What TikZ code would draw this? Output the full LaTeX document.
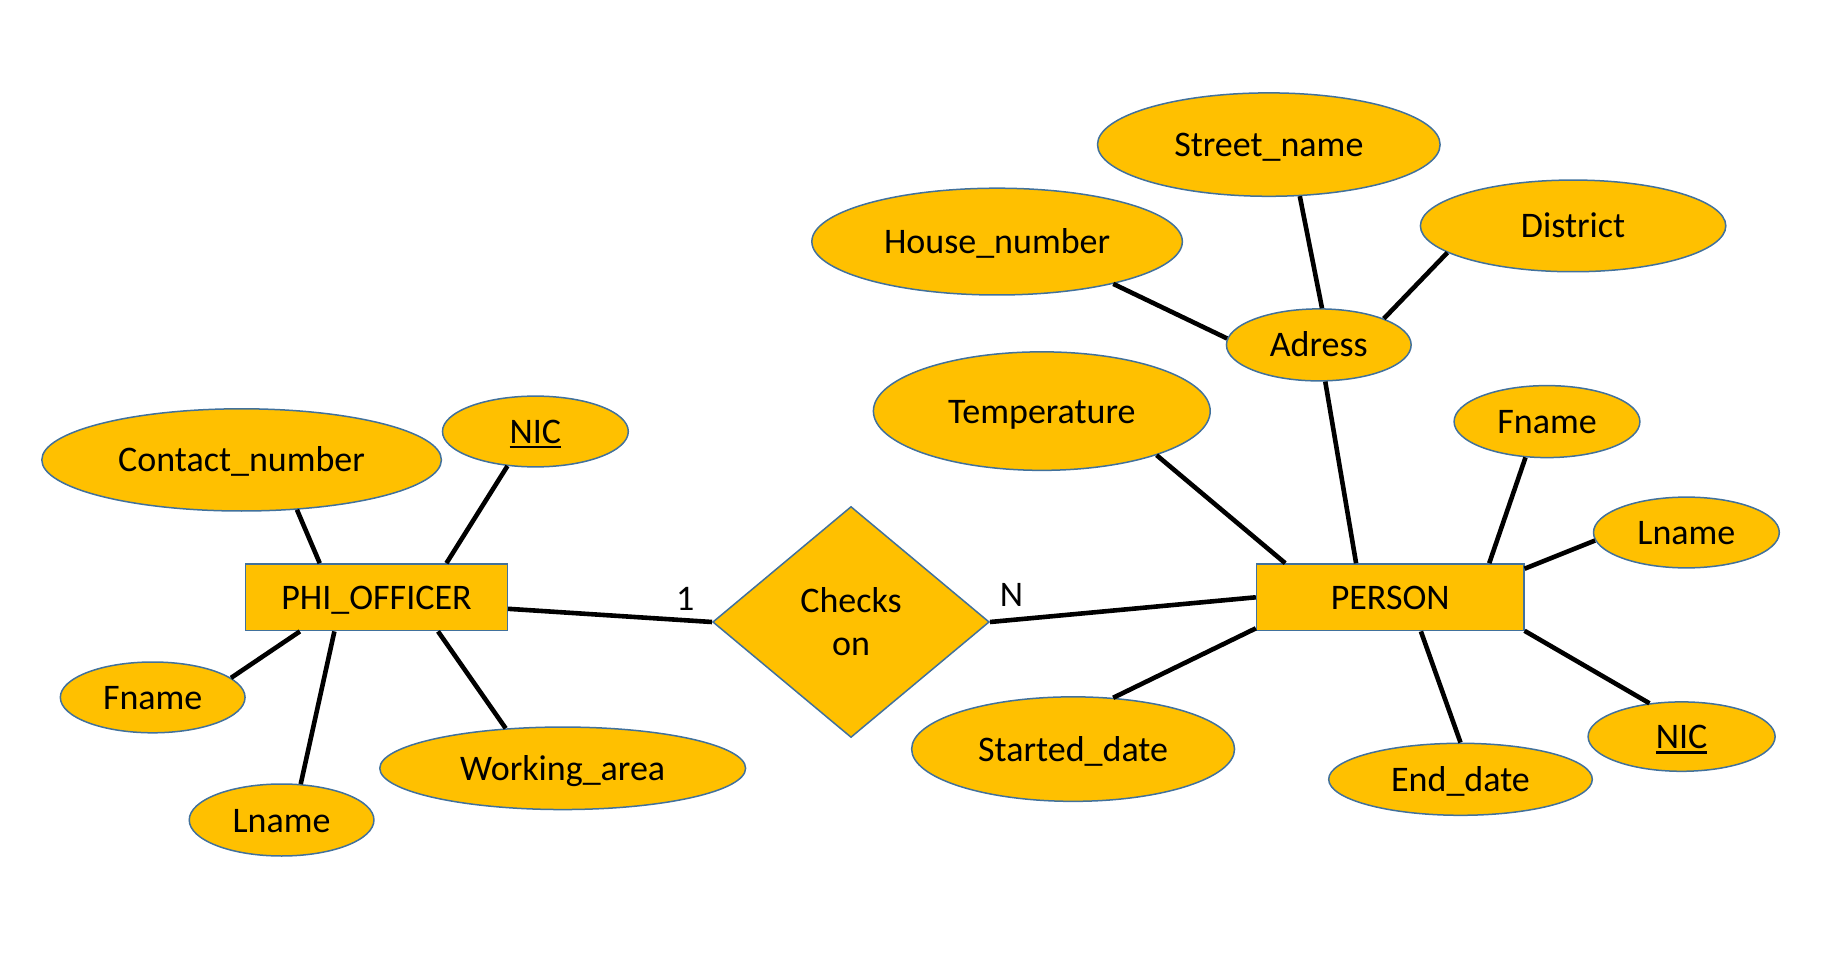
\documentclass[tikz,border=0pt]{standalone}
\usepackage{fontspec}
\setmainfont{Carlito}
\usetikzlibrary{shapes.geometric}
\definecolor{erfill}{HTML}{FFC000}
\definecolor{erborder}{HTML}{41719C}
\newcommand{\ulx}[1]{\setbox0\hbox{#1}\rlap{\rule[-5pt]{\wd0}{2.6pt}}\box0}
\tikzset{
  ertext/.style={font=\fontsize{36}{43}\selectfont, text=black},
  boxtext/.style={ertext, text height=30pt, text depth=6pt},
  attr/.style={ellipse, draw=erborder, fill=erfill, line width=1.5pt, inner sep=0pt, boxtext},
  entity/.style={rectangle, draw=erborder, fill=erfill, line width=1.5pt, inner sep=0pt, boxtext},
  rel/.style={diamond, draw=erborder, fill=erfill, line width=1.5pt, inner sep=0pt, ertext, align=center},
  conn/.style={draw=black, line width=4.6pt},
  card/.style={ertext, inner sep=0pt}
}
\begin{document}
\begin{tikzpicture}[x=1pt, y=-1pt]
\useasboundingbox (0,0) rectangle (1821,957);
% entities and relationship
\node[entity, minimum width=261.6pt, minimum height=66.7pt] (phi) at (376.5,597.3) {PHI\_OFFICER};
\node[entity, minimum width=267.2pt, minimum height=66.7pt] (person) at (1390.2,597.3) {PERSON};
\node[rel, minimum width=276.6pt, minimum height=231pt] (checks) at (851,622) {Checks\\on};
% attributes of PHI_OFFICER
\node[attr, minimum width=399.6pt, minimum height=102.2pt] (cn) at (241.6,459.9) {Contact\_number};
\node[attr, minimum width=185.8pt, minimum height=70.8pt] (nicL) at (535.4,431.5) {\ulx{NIC}};
\node[attr, minimum width=184.7pt, minimum height=70.8pt] (fnL) at (152.7,697.4) {Fname};
\node[attr, minimum width=184.7pt, minimum height=72pt] (lnL) at (281.6,820) {Lname};
\node[attr, minimum width=365.8pt, minimum height=82.5pt] (wa) at (562.7,768.3) {Working\_area};
% attributes of PERSON
\node[attr, minimum width=336.8pt, minimum height=118.5pt] (temp) at (1041.8,411.1) {Temperature};
\node[attr, minimum width=184.7pt, minimum height=72pt] (adr) at (1318.8,344.9) {Adress};
\node[attr, minimum width=370.5pt, minimum height=106.8pt] (hn) at (997.1,241.6) {House\_number};
\node[attr, minimum width=342.6pt, minimum height=103.4pt] (sn) at (1268.8,144.6) {Street\_name};
\node[attr, minimum width=305.4pt, minimum height=91.7pt] (dist) at (1573.1,225.9) {District};
\node[attr, minimum width=185.8pt, minimum height=72pt] (fnR) at (1547,421.6) {Fname};
\node[attr, minimum width=185.8pt, minimum height=70.8pt] (lnR) at (1686.4,532.5) {Lname};
\node[attr, minimum width=187pt, minimum height=69.4pt] (nicR) at (1681.6,736.6) {\ulx{NIC}};
\node[attr, minimum width=263.6pt, minimum height=72pt] (endd) at (1460.5,779.3) {End\_date};
\node[attr, minimum width=322.9pt, minimum height=104.5pt] (sd) at (1073.1,749.1) {Started\_date};
% cardinalities
\node[card] (c1) at (685.2,599) {1};
\node[card] (cN) at (1011.6,594.5) {N};
% connectors
\draw[conn] (cn.-42.5) -- (phi.149.8);
\draw[conn] (nicL.231.8) -- (phi.26.6);
\draw[conn] (fnL.14.7) -- (phi.204);
\draw[conn] (lnL.62) -- (phi.219.2);
\draw[conn] (wa.145.1) -- (phi.-29.2);
\draw[conn] (phi.-5.9) -- (checks.west);
\draw[conn] (checks.east) -- (person.180.7);
\draw[conn] (temp.-21) -- (person.162.8);
\draw[conn] (adr.-80) -- (person.135.5);
\draw[conn] (hn.-20.7) -- (adr.176.4);
\draw[conn] (sn.-59.2) -- (adr.85.4);
\draw[conn] (dist.192.7) -- (adr.22.5);
\draw[conn] (fnR.239.9) -- (person.19.2);
\draw[conn] (lnR.185.6) -- (person.12.5);
\draw[conn] (nicR.134.5) -- (person.-14.7);
\draw[conn] (endd.90) -- (person.-48.7);
\draw[conn] (sd.52.3) -- (person.193.4);
\end{tikzpicture}
\end{document}
